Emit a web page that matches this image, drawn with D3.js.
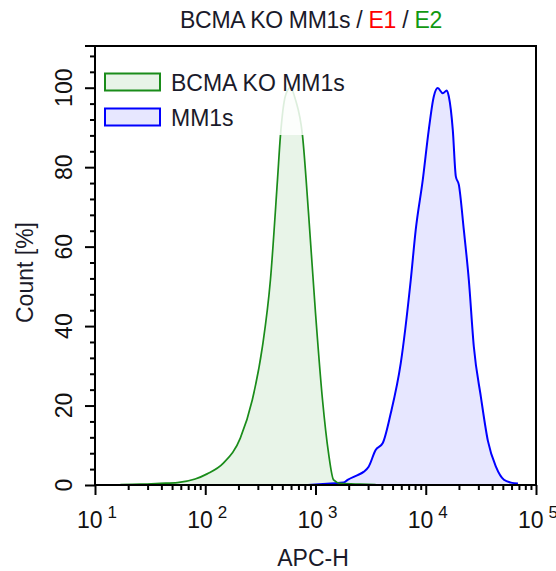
<!DOCTYPE html>
<html><head><meta charset="utf-8">
<script src="https://cdn.jsdelivr.net/npm/d3@7"></script>
<style>
body{margin:0;background:#fff}
text{font-family:"Liberation Sans",Arial,sans-serif}
</style>
</head><body>
<svg id="chart" width="556" height="571"></svg>
<script>
// ---- data ----
const koApc   = [17, 26, 39, 56, 81, 104, 146, 208, 267, 330, 390, 452, 481, 534, 593, 658, 762, 864, 1000, 1158, 1313, 1458, 1688, 2566, 3511];
const koCount = [0.1, 0.2, 0.4, 0.6, 1.5, 2.8, 5.5, 11.8, 21.4, 34.8, 51.6, 76.8, 88, 98, 100, 97, 88, 68.5, 43.3, 21.4, 8, 1.3, 0.4, 0.2, 0.1];

const mmApc   = [846, 1368, 1799, 1955, 2410, 2731, 3034, 3511, 4063, 4809, 5929, 7311, 8110, 9397, 10650, 11830, 12850, 14280, 15510, 16190, 17590, 18740, 19950, 22150, 24590, 27300, 31620, 36620, 43290, 51170, 59290, 68590];
const mmCount = [0, 0.4, 0.6, 1.3, 2.5, 3.3, 4.6, 8.8, 10.5, 18, 30.6, 51.6, 64.2, 76.8, 89.4, 97.8, 99.9, 98.6, 99.3, 97.8, 89.4, 77.7, 75.6, 64.2, 51.6, 34.8, 22.2, 11.1, 4.6, 1.3, 0.6, 0.4];

const xMajor = [10, 100, 1000, 10000, 100000];
const xExp   = ["1", "2", "3", "4", "5"];
const yMajor = [0, 20, 40, 60, 80, 100];
const legendNames = ["BCMA KO MM1s", "MM1s"];
const titleParts = [["BCMA KO MM1s / ", "#1a1a2a"], ["E1", "#ff0000"], [" / ", "#1a1a2a"], ["E2", "#119911"]];

// ---- layout ----
const L = 95, R = 536, T = 46, B = 485;
const FS = 23;
const svg = d3.select("#chart");
const x = d3.scaleLog().domain([10, 100000]).range([L, R]);
const y = d3.scaleLinear().domain([0, 110.5]).range([B, T]);

const green = "#1a8c1a", blue = "#0000ff";
const series = [
  {apc: koApc, cnt: koCount, stroke: green, fill: "rgba(0,128,0,0.09)", w: 1.7},
  {apc: mmApc, cnt: mmCount, stroke: blue, fill: "rgba(0,0,255,0.095)", w: 2}
];

const area = d3.area().x(d => x(d[0])).y0(y(0)).y1(d => y(d[1])).curve(d3.curveMonotoneX);
const line = d3.line().x(d => x(d[0])).y(d => y(d[1])).curve(d3.curveMonotoneX);

const plot = svg.append("g");
plot.append("clipPath").attr("id", "clip").append("rect").attr("x", L).attr("y", T).attr("width", R - L).attr("height", B - T);
const pg = plot.append("g").attr("clip-path", "url(#clip)");
[series[1], series[0]].forEach(s => {
  const pts = s.apc.map((a, i) => [a, s.cnt[i]]);
  pg.append("path").attr("d", area(pts)).attr("fill", s.fill);
});
[series[1], series[0]].forEach(s => {
  const pts = s.apc.map((a, i) => [a, s.cnt[i]]);
  pg.append("path").attr("d", line(pts)).attr("fill", "none").attr("stroke", s.stroke).attr("stroke-width", s.w).attr("stroke-linejoin", "round");
});

// legend background (semi-transparent, fades the green peak)
svg.append("rect").attr("x", 98).attr("y", 62).attr("width", 262).attr("height", 73).attr("fill", "rgba(255,255,255,0.85)");

// legend
legendNames.forEach((n, i) => {
  const s = series[i];
  const yy = i === 0 ? 73.5 : 108.5;
  svg.append("rect").attr("x", 105).attr("y", yy).attr("width", 55).attr("height", 17)
    .attr("fill", s.fill).attr("stroke", s.stroke).attr("stroke-width", 2);
  svg.append("text").attr("x", 171).attr("y", yy + 17).attr("font-size", FS).attr("fill", "#1a1a2a").text(n);
});

// axes
svg.append("g").attr("transform", `translate(0,${B})`)
  .call(d3.axisBottom(x).tickValues(xMajor).tickSize(10).tickFormat(""));
const minors = [];
for (let d = 10; d < 100000; d *= 10) for (let k = 2; k <= 9; k++) minors.push(d * k);
svg.append("g").attr("transform", `translate(0,${B})`)
  .call(d3.axisBottom(x).tickValues(minors).tickSize(5).tickFormat(""));
svg.append("g").attr("transform", `translate(${L},0)`)
  .call(d3.axisLeft(y).tickValues(yMajor).tickSize(10).tickFormat(""));
const yMinor = d3.range(4, 110, 4).filter(v => v % 20 !== 0);
svg.append("g").attr("transform", `translate(${L},0)`)
  .call(d3.axisLeft(y).tickValues(yMinor).tickSize(5).tickFormat(""));
svg.selectAll(".domain").remove();
svg.selectAll(".tick line").attr("stroke", "#000").attr("stroke-width", 2);

// frame
const frame = svg.append("g").attr("stroke", "#000").attr("stroke-width", 2).attr("fill", "none");
frame.append("path").attr("d", `M${L - 10},${T}H${R}V${B + 1}`);
frame.append("path").attr("d", `M${L},${T}V${B}H${R}`);

// x tick labels
xMajor.forEach((v, i) => {
  const t = svg.append("text").attr("x", x(v) + 2).attr("y", 528).attr("text-anchor", "middle")
    .attr("font-size", FS).attr("fill", "#111");
  t.append("tspan").text("10");
  t.append("tspan").attr("dx", 5).attr("dy", -10).attr("font-size", 17).text(xExp[i]);
});

// y tick labels
yMajor.forEach(v => {
  svg.append("text").attr("transform", `translate(72,${y(v)}) rotate(-90)`)
    .attr("text-anchor", "middle").attr("font-size", FS).attr("fill", "#111").text(v);
});

// axis titles
svg.append("text").attr("transform", `translate(33,${(T + B) / 2 + 7}) rotate(-90)`)
  .attr("text-anchor", "middle").attr("font-size", FS).attr("fill", "#1a1a2a").text("Count [%]");
svg.append("text").attr("x", 313).attr("y", 566).attr("text-anchor", "middle")
  .attr("font-size", FS).attr("fill", "#1a1a2a").text("APC-H");

// title
const tt = svg.append("text").attr("x", 311).attr("y", 28).attr("text-anchor", "middle")
  .attr("font-size", FS).attr("letter-spacing", -0.3);
titleParts.forEach(p => tt.append("tspan").attr("fill", p[1]).text(p[0]));
</script>
</body></html>
